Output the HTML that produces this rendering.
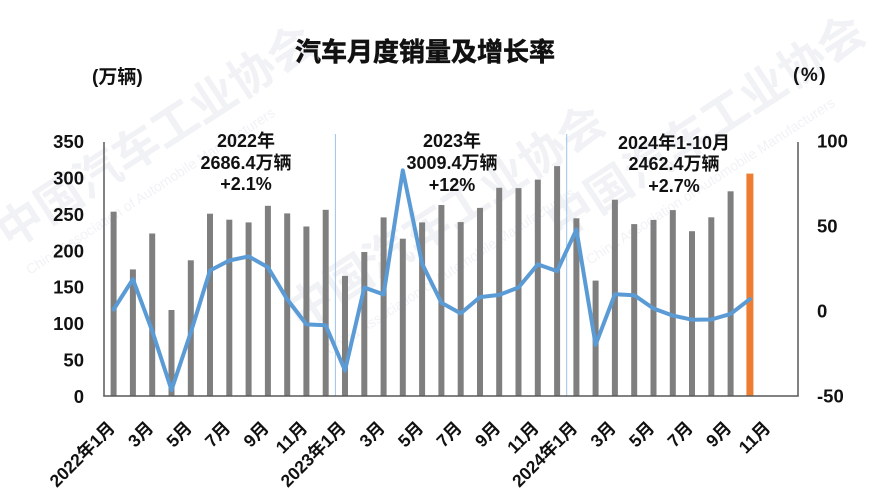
<!DOCTYPE html>
<html><head><meta charset="utf-8"><style>
html,body{margin:0;padding:0;background:#fff;}
svg{display:block;}
text{font-family:"Liberation Sans","Noto Sans CJK SC",sans-serif;font-weight:bold;fill:#111;}
.wm{fill:#f1f2f5;font-weight:bold;}
.wms{fill:#f1f2f5;font-weight:normal;}
</style></head><body>
<svg width="894" height="500" viewBox="0 0 894 500" xmlns="http://www.w3.org/2000/svg">
<rect width="894" height="500" fill="#fff"/>
<!-- watermarks -->
<text class="wm" font-size="46" transform="translate(10,250) rotate(-33)">中国汽车工业协会</text>
<text class="wms" font-size="14" transform="translate(30,275) rotate(-33)">China Association of Automobile Manufacturers</text>
<text class="wm" font-size="46" transform="translate(300,330) rotate(-33)">中国汽车工业协会</text>
<text class="wms" font-size="14" transform="translate(330,355) rotate(-33)">China Association of Automobile Manufacturers</text>
<text class="wm" font-size="46" transform="translate(560,240) rotate(-33)">中国汽车工业协会</text>
<text class="wms" font-size="14" transform="translate(590,265) rotate(-33)">China Association of Automobile Manufacturers</text>

<!-- title -->
<text x="425" y="61" font-size="26" text-anchor="middle" stroke="#111" stroke-width="0.6">汽车月度销量及增长率</text>
<text x="92" y="83" font-size="19">(万辆)</text>
<text x="793" y="81" font-size="19" letter-spacing="1.5">(%)</text>

<!-- separators -->
<line x1="335.4" y1="134" x2="335.4" y2="396" stroke="#9dc3e6" stroke-width="1"/>
<line x1="566.7" y1="134" x2="566.7" y2="396" stroke="#9dc3e6" stroke-width="1"/>

<!-- bars -->
<g fill="#7f7f7f">
<rect x="110.6" y="211.7" width="6" height="184.3"/>
<rect x="129.9" y="269.4" width="6" height="126.6"/>
<rect x="149.2" y="233.5" width="6" height="162.5"/>
<rect x="168.5" y="310.0" width="6" height="86.0"/>
<rect x="187.8" y="260.3" width="6" height="135.7"/>
<rect x="207.0" y="213.7" width="6" height="182.3"/>
<rect x="226.3" y="219.7" width="6" height="176.3"/>
<rect x="245.6" y="222.4" width="6" height="173.6"/>
<rect x="264.9" y="205.8" width="6" height="190.2"/>
<rect x="284.2" y="213.4" width="6" height="182.6"/>
<rect x="303.4" y="226.5" width="6" height="169.5"/>
<rect x="322.7" y="209.8" width="6" height="186.2"/>
<rect x="342.0" y="275.9" width="6" height="120.1"/>
<rect x="361.3" y="252.0" width="6" height="144.0"/>
<rect x="380.6" y="217.4" width="6" height="178.6"/>
<rect x="399.8" y="238.7" width="6" height="157.3"/>
<rect x="419.1" y="222.4" width="6" height="173.6"/>
<rect x="438.4" y="205.0" width="6" height="191.0"/>
<rect x="457.7" y="222.1" width="6" height="173.9"/>
<rect x="477.0" y="207.9" width="6" height="188.1"/>
<rect x="496.2" y="187.8" width="6" height="208.2"/>
<rect x="515.5" y="188.1" width="6" height="207.9"/>
<rect x="534.8" y="179.6" width="6" height="216.4"/>
<rect x="554.1" y="166.1" width="6" height="229.9"/>
<rect x="573.4" y="218.3" width="6" height="177.7"/>
<rect x="592.6" y="280.6" width="6" height="115.4"/>
<rect x="611.9" y="199.7" width="6" height="196.3"/>
<rect x="631.2" y="224.1" width="6" height="171.9"/>
<rect x="650.5" y="219.9" width="6" height="176.1"/>
<rect x="669.8" y="210.1" width="6" height="185.9"/>
<rect x="689.0" y="231.2" width="6" height="164.8"/>
<rect x="708.3" y="217.3" width="6" height="178.7"/>
<rect x="727.6" y="191.3" width="6" height="204.7"/>
</g>
<rect x="746.4" y="173.6" width="7" height="222.4" fill="#ed7d31"/>

<!-- growth line -->
<polyline fill="none" stroke="#5b9bd5" stroke-width="4" stroke-linejoin="round" stroke-linecap="round"
points="113.6,309.5 132.9,279.2 152.2,330.9 171.5,390 190.8,332.4 210.0,270.5 229.3,260.5 248.6,256.4 267.9,267.3 287.2,299.3 306.4,324.4 325.7,325.3 345.0,370.5 364.3,287.5 383.6,294.5 402.8,170.4 422.1,263.6 441.4,302.8 460.7,313.4 480.0,297.1 499.2,294.9 518.5,287.5 537.8,264.4 557.1,271.1 576.4,229.6 595.6,344.8 614.9,294.2 634.2,295.2 653.5,308.5 672.8,315.6 692.0,319.7 711.3,319.5 730.6,313.9 749.9,299.1"/>

<!-- axes -->
<line x1="104" y1="142" x2="104" y2="396.5" stroke="#595959" stroke-width="1.5"/>
<line x1="798" y1="142" x2="798" y2="396.5" stroke="#595959" stroke-width="1.5"/>
<line x1="103.3" y1="396" x2="798.7" y2="396" stroke="#595959" stroke-width="1.5"/>

<!-- left ticks -->
<g font-size="18.5" text-anchor="end">
<text x="84" y="148">350</text>
<text x="84" y="184.4">300</text>
<text x="84" y="220.9">250</text>
<text x="84" y="257.3">200</text>
<text x="84" y="293.7">150</text>
<text x="84" y="330.2">100</text>
<text x="84" y="366.6">50</text>
<text x="84" y="403">0</text>
</g>
<!-- right ticks -->
<g font-size="18.5">
<text x="817" y="147.5">100</text>
<text x="817" y="232.5">50</text>
<text x="817" y="317.5">0</text>
<text x="817" y="402.5">-50</text>
</g>

<!-- annotations -->
<g font-size="18" text-anchor="middle">
<text x="246" y="147">2022年</text>
<text x="246" y="169">2686.4万辆</text>
<text x="246" y="190">+2.1%</text>
<text x="452" y="147">2023年</text>
<text x="452" y="169">3009.4万辆</text>
<text x="452" y="191">+12%</text>
<text x="674" y="149">2024年1-10月</text>
<text x="674" y="170">2462.4万辆</text>
<text x="674" y="192">+2.7%</text>
</g>

<!-- x labels -->
<g font-size="17.5" text-anchor="end">
<text transform="translate(116,429) rotate(-45)">2022年1月</text>
<text transform="translate(154.5,429) rotate(-45)">3月</text>
<text transform="translate(193,429) rotate(-45)">5月</text>
<text transform="translate(231.5,429) rotate(-45)">7月</text>
<text transform="translate(270,429) rotate(-45)">9月</text>
<text transform="translate(308.5,429) rotate(-45)">11月</text>
<text transform="translate(347,429) rotate(-45)">2023年1月</text>
<text transform="translate(386,429) rotate(-45)">3月</text>
<text transform="translate(424.5,429) rotate(-45)">5月</text>
<text transform="translate(463,429) rotate(-45)">7月</text>
<text transform="translate(501.5,429) rotate(-45)">9月</text>
<text transform="translate(540,429) rotate(-45)">11月</text>
<text transform="translate(578.5,429) rotate(-45)">2024年1月</text>
<text transform="translate(617,429) rotate(-45)">3月</text>
<text transform="translate(655.5,429) rotate(-45)">5月</text>
<text transform="translate(694,429) rotate(-45)">7月</text>
<text transform="translate(732.5,429) rotate(-45)">9月</text>
<text transform="translate(771.5,429) rotate(-45)">11月</text>
</g>
</svg>
</body></html>
